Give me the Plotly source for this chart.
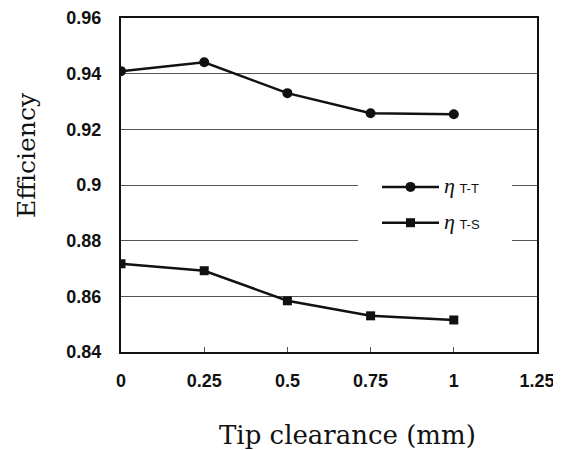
import plotly.graph_objects as go

clearance = [0, 0.25, 0.5, 0.75, 1.0]
eta_tt = [0.9409, 0.9441, 0.9330, 0.9258, 0.9254]
eta_ts = [0.8717, 0.8692, 0.8584, 0.8530, 0.8515]

x_ticks = [0, 0.25, 0.5, 0.75, 1, 1.25]
x_ticklabels = ["0", "0.25", "0.5", "0.75", "1", "1.25"]
y_ticks = [0.84, 0.86, 0.88, 0.9, 0.92, 0.94, 0.96]
y_ticklabels = ["0.84", "0.86", "0.88", "0.9", "0.92", "0.94", "0.96"]
x_range = [0, 1.25]
y_range = [0.84, 0.96]

def leg(sub):
    return ("<span style='font-family:Liberation Serif;font-size:22px'><i>η</i></span>"
            " <span style='font-size:13px'>" + sub + "</span>")

fig = go.Figure()
fig.add_trace(go.Scatter(
    x=clearance, y=eta_tt, mode="lines+markers", name=leg("T-T"), legendgroup="a",
    line=dict(color="#111111", width=2.5),
    marker=dict(symbol="circle", size=10, color="#111111"),
))
fig.add_trace(go.Scatter(
    x=clearance, y=eta_ts, mode="lines+markers", name=leg("T-S"), legendgroup="b",
    line=dict(color="#111111", width=2.5),
    marker=dict(symbol="square", size=9, color="#111111"),
))

# page body has an 8px margin: figure is offset by 8px in the window
W, H = 553, 442
L, R, T, B = 113, 24, 10, 98
pw, ph = W - L - R, H - T - B

def fx(frac):
    return x_range[0] + frac * (x_range[1] - x_range[0])

def fy(frac):
    return y_range[0] + frac * (y_range[1] - y_range[0])

# white background behind the legend (hides the grid lines there)
fig.add_shape(type="rect", xref="x", yref="y",
              x0=fx((358 - 121) / pw), x1=fx((512 - 121) / pw),
              y0=fy((352 - 258) / ph), y1=fy((352 - 160) / ph),
              fillcolor="white", line=dict(width=0), layer="between")

fig.update_layout(
    width=W, height=H,
    margin=dict(l=L, r=R, t=T, b=B),
    paper_bgcolor="white", plot_bgcolor="white",
    font=dict(family="Liberation Sans", color="#111111"),
    showlegend=True,
    legend=dict(x=(377 - 121) / pw, y=(352 - 170) / ph, xanchor="left", yanchor="top",
                bgcolor="rgba(0,0,0,0)", borderwidth=0,
                font=dict(size=16, family="Liberation Sans", color="#111111"),
                itemwidth=57, traceorder="grouped", tracegroupgap=12),
    annotations=[
        dict(text="Tip clearance (mm)", xref="paper", yref="paper",
             x=(347 - 121) / pw, y=-(435 - 352) / ph, xanchor="center", yanchor="middle",
             showarrow=False, font=dict(family="DejaVu Serif", size=26, color="#111111")),
        dict(text="Efficiency", xref="paper", yref="paper",
             x=-(121 - 26) / pw, y=(352 - 155) / ph, xanchor="center", yanchor="middle",
             textangle=-90, showarrow=False,
             font=dict(family="DejaVu Serif", size=25, color="#111111")),
    ],
)

fig.update_xaxes(
    range=x_range, tickvals=x_ticks, ticktext=x_ticklabels, automargin=False,
    showgrid=False, zeroline=False,
    showline=True, linecolor="#111111", linewidth=2, mirror=True,
    ticks="inside", ticklen=5, tickcolor="#555555", tickwidth=1,
    tickfont=dict(family="Liberation Sans", size=18, color="#111111", weight="bold"),
    ticklabelstandoff=11,
)
fig.update_yaxes(
    range=y_range, tickvals=y_ticks, ticktext=y_ticklabels, automargin=False,
    showgrid=True, gridcolor="#555555", gridwidth=1, zeroline=False,
    showline=True, linecolor="#111111", linewidth=2, mirror=True,
    ticks="", tickfont=dict(family="Liberation Sans", size=18, color="#111111", weight="bold"),
    ticklabelstandoff=14,
)

fig.write_html("out.html")
